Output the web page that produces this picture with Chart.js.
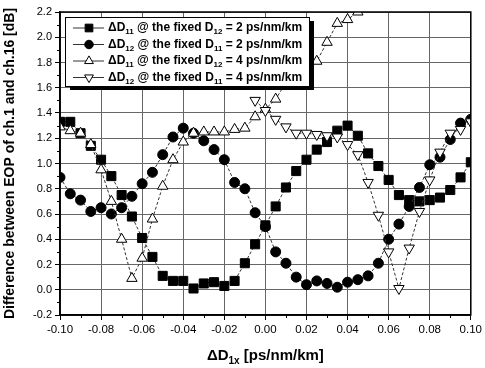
<!DOCTYPE html>
<html>
<head>
<meta charset="utf-8">
<script src="https://cdn.jsdelivr.net/npm/chart.js@4/dist/chart.umd.min.js"></script>
<style>
  html, body { margin: 0; padding: 0; background: #fff; }
  #wrap { width: 485px; height: 368px; }
</style>
</head>
<body>
<div id="wrap"><canvas id="chart"></canvas></div>
<script>
/* EOP difference ch.1 / ch.16 vs dispersion offset */
const xValues = [
  -0.100, -0.095, -0.090, -0.085, -0.080, -0.075, -0.070, -0.065, -0.060, -0.055,
  -0.050, -0.045, -0.040, -0.035, -0.030, -0.025, -0.020, -0.015, -0.010, -0.005,
   0.000,  0.005,  0.010,  0.015,  0.020,  0.025,  0.030,  0.035,  0.040,  0.045,
   0.050,  0.055,  0.060,  0.065,  0.070,  0.075,  0.080,  0.085,  0.090,  0.095,
   0.100
];

// ΔD11 @ fixed D12 = 2 ps/nm/km (filled squares)
const d11At2 = [
  1.33, 1.33, 1.24, 1.14, 1.03, 0.90, 0.75, 0.58, 0.41, 0.26,
  0.11, 0.07, 0.07, 0.01, 0.05, 0.06, 0.03, 0.07, 0.21, 0.36,
  0.51, 0.66, 0.81, 0.94, 1.03, 1.11, 1.17, 1.26, 1.30, 1.22,
  1.08, 0.98, 0.87, 0.75, 0.71, 0.70, 0.71, 0.73, 0.79, 0.89,
  1.01
];

// ΔD12 @ fixed D11 = 2 ps/nm/km (filled circles)
const d12At2 = [
  0.89, 0.76, 0.71, 0.62, 0.65, 0.60, 0.65, 0.74, 0.84, 0.93,
  1.07, 1.21, 1.28, 1.24, 1.18, 1.11, 1.03, 0.85, 0.80, 0.61,
  0.50, 0.30, 0.21, 0.10, 0.04, 0.07, 0.05, 0.02, 0.06, 0.08,
  0.11, 0.21, 0.40, 0.52, 0.66, 0.81, 0.99, 1.05, 1.19, 1.32,
  1.35
];

// ΔD11 @ fixed D12 = 4 ps/nm/km (open up triangles)
const d11At4 = [
  1.29, 1.26, 1.24, 1.15, 0.95, 0.70, 0.40, 0.09, 0.25, 0.56,
  0.82, 1.03, 1.17, 1.24, 1.25, 1.25, 1.25, 1.27, 1.28, 1.37,
  1.43, 1.51, 1.64, 1.70, 1.76, 1.81, 1.96, 2.11, 2.14, 2.20,
  null, null, null, null, null, null, null, null, null, null,
  null
];

// ΔD12 @ fixed D11 = 4 ps/nm/km (open down triangles)
const d12At4 = [
  null, null, null, null, null, null, null, null, null, null,
  null, null, null, null, null, null, null, null, null, 1.50,
  1.42, 1.35, 1.29, 1.24, 1.24, 1.23, 1.22, 1.21, 1.15, 1.07,
  0.85, 0.59, 0.30, 0.01, 0.33, 0.62, 0.87, 1.09, 1.24, 1.27,
  1.33
];

const seriesNames = [
  [["\u0394D"], ["11", 1], [" @ the fixed D"], ["12", 1], [" = 2 ps/nm/km"]],
  [["\u0394D"], ["12", 1], [" @ the fixed D"], ["11", 1], [" = 2 ps/nm/km"]],
  [["\u0394D"], ["11", 1], [" @ the fixed D"], ["12", 1], [" = 4 ps/nm/km"]],
  [["\u0394D"], ["12", 1], [" @ the fixed D"], ["11", 1], [" = 4 ps/nm/km"]],
];
const xTitle = [["\u0394D"], ["1x", 1], [" [ps/nm/km]"]];
const yTitle = "Difference between EOP of ch.1 and ch.16 [dB]";

const FONT = "'Liberation Sans', Arial, Helvetica, sans-serif";

function toPoints(values) {
  return xValues.map((x, i) => ({ x: x, y: values[i] })).filter((p) => p.y !== null);
}

const markers = [
  { style: "rect", radius: 6.4, rotation: 0, fill: "#000" },
  { style: "circle", radius: 5, rotation: 0, fill: "#000" },
  { style: "triangle", radius: 6, rotation: 0, fill: "#fff" },
  { style: "triangle", radius: 6, rotation: 180, fill: "#fff" },
];

function makeDataset(values, m, order) {
  return {
    data: toPoints(values),
    showLine: true,
    borderColor: "#333",
    borderWidth: 1,
    borderDash: [3, 2],
    pointStyle: m.style,
    pointRadius: m.radius,
    pointRotation: m.rotation,
    pointBackgroundColor: m.fill,
    pointBorderColor: "#000",
    pointBorderWidth: 1,
    order: order,
  };
}

function drawParts(ctx, parts, x, y, size) {
  let cx = x;
  parts.forEach((p) => {
    const sub = p[1] === 1;
    const fs = sub ? Math.round(size * 0.66) : size;
    ctx.font = "bold " + fs + "px " + FONT;
    ctx.fillText(p[0], cx, sub ? y + size * 0.32 : y);
    cx += ctx.measureText(p[0]).width;
  });
  return cx - x;
}

function partsWidth(ctx, parts, size) {
  let w = 0;
  parts.forEach((p) => {
    const fs = p[1] === 1 ? Math.round(size * 0.66) : size;
    ctx.font = "bold " + fs + "px " + FONT;
    w += ctx.measureText(p[0]).width;
  });
  return w;
}

const decorPlugin = {
  id: "decor",
  afterDraw(chart) {
    const ctx = chart.ctx;
    const a = chart.chartArea;
    const xs = chart.scales.x;
    const ys = chart.scales.y;

    // frame
    ctx.save();
    ctx.strokeStyle = "#000";
    ctx.lineWidth = 1.5;
    ctx.strokeRect(a.left, a.top, a.right - a.left, a.bottom - a.top);

    // minor ticks
    ctx.lineWidth = 1;
    ctx.beginPath();
    for (let k = -9; k <= 9; k += 2) {
      const px = Math.round(xs.getPixelForValue(k / 100)) + 0.5;
      ctx.moveTo(px, a.bottom);
      ctx.lineTo(px, a.bottom + 3);
    }
    for (let k = -1; k <= 21; k += 2) {
      const py = Math.round(ys.getPixelForValue(k / 10)) + 0.5;
      ctx.moveTo(a.left, py);
      ctx.lineTo(a.left - 3, py);
    }
    ctx.stroke();

    // legend box with shadow
    const lx = 65, ly = 17, lw = 244, lh = 69;
    ctx.fillStyle = "#000";
    ctx.fillRect(lx + 5, ly + 4, lw, lh);
    ctx.fillStyle = "#fff";
    ctx.fillRect(lx, ly, lw, lh);
    ctx.strokeStyle = "#000";
    ctx.lineWidth = 1;
    ctx.strokeRect(lx + 0.5, ly + 0.5, lw, lh);

    ctx.textBaseline = "middle";
    ctx.textAlign = "left";
    seriesNames.forEach((parts, i) => {
      const ry = ly + 11 + i * 16.5;
      ctx.strokeStyle = "#333";
      ctx.lineWidth = 1;
      ctx.beginPath();
      ctx.moveTo(73, ry);
      ctx.lineTo(104, ry);
      ctx.stroke();
      const m = markers[i];
      ctx.fillStyle = m.fill;
      ctx.strokeStyle = "#000";
      ctx.lineWidth = 1;
      Chart.helpers.drawPoint(ctx, { pointStyle: m.style, radius: m.radius * 0.85, rotation: m.rotation, borderWidth: 1 }, 89, ry);
      ctx.fillStyle = "#000";
      drawParts(ctx, parts, 108, ry, 12);
    });

    // x title
    ctx.fillStyle = "#000";
    const tw = partsWidth(ctx, xTitle, 15);
    drawParts(ctx, xTitle, (a.left + a.right) / 2 - tw / 2, 356, 15);

    // y title
    ctx.translate(10, (a.top + a.bottom) / 2);
    ctx.rotate(-Math.PI / 2);
    ctx.textAlign = "center";
    ctx.font = "bold 14px " + FONT;
    ctx.fillText(yTitle, 0, 0);
    ctx.restore();
  },
};

const fmt = (v, d) => (Math.abs(v) < 1e-9 ? 0 : v).toFixed(d);

new Chart(document.getElementById("chart"), {
  type: "scatter",
  data: {
    datasets: [
      makeDataset(d11At2, markers[0], 4),
      makeDataset(d12At2, markers[1], 3),
      makeDataset(d11At4, markers[2], 2),
      makeDataset(d12At4, markers[3], 1),
    ],
  },
  options: {
    responsive: true,
    maintainAspectRatio: false,
    animation: false,
    layout: { padding: { top: 12, right: 11, left: 0, bottom: 0 } },
    plugins: { legend: { display: false }, tooltip: { enabled: false } },
    scales: {
      x: {
        type: "linear",
        min: -0.1,
        max: 0.1,
        ticks: {
          stepSize: 0.02,
          autoSkip: false,
          maxRotation: 0,
          padding: 3,
          color: "#000",
          font: { family: FONT, size: 11.5 },
          callback: (v) => fmt(v, 2),
        },
        grid: { color: "#666", tickColor: "#000", tickLength: 5, lineWidth: 1 },
        border: { color: "#000", width: 1.5 },
        afterFit: (s) => { s.height = 53; },
      },
      y: {
        min: -0.2,
        max: 2.2,
        ticks: {
          stepSize: 0.2,
          padding: 3,
          color: "#000",
          font: { family: FONT, size: 11 },
          callback: (v) => fmt(v, 1),
        },
        grid: { color: "#666", tickColor: "#000", tickLength: 5, lineWidth: 1 },
        border: { color: "#000", width: 1.5 },
        afterFit: (s) => { s.width = 60; },
      },
    },
  },
  plugins: [decorPlugin],
});
</script>
</body>
</html>
